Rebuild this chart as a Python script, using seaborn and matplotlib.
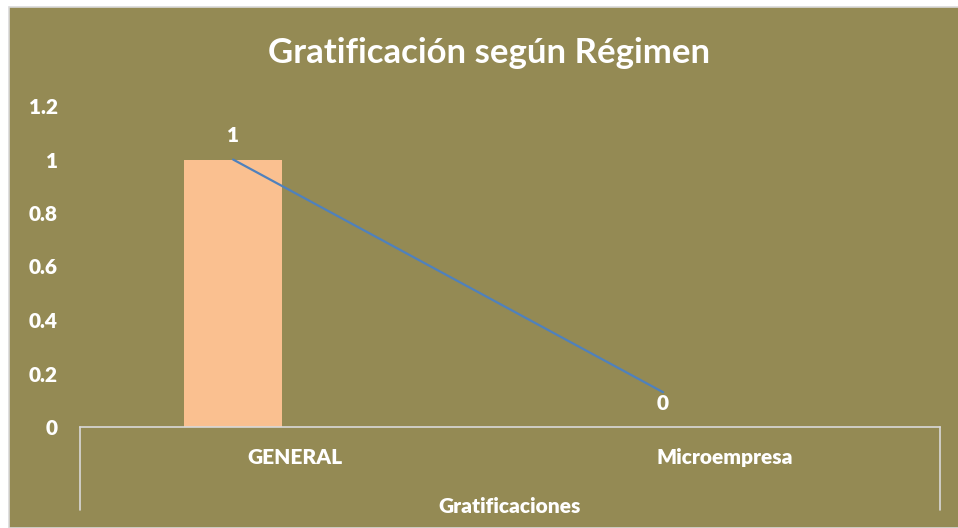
import pandas as pd
import seaborn as sns
import matplotlib.pyplot as plt
from matplotlib.patches import Rectangle

# Data
categories = ['GENERAL', 'Microempresa']
bar_values = [1, 0]
line_values = [1, 0.13]
label_values = [1, 0]
y_ticks = [0, 0.2, 0.4, 0.6, 0.8, 1, 1.2]
y_tick_labels = ['0', '0.2', '0.4', '0.6', '0.8', '1', '1.2']

olive = '#948A54'
peach = '#FAC090'
blue = '#4F81BD'
grid_gray = '#D9D9D9'

sns.set_style('white')
plt.rcParams['font.family'] = ['Lato', 'DejaVu Sans']
plt.rcParams['font.weight'] = 'heavy'

df = pd.DataFrame({'cat': categories, 'val': bar_values})

fig = plt.figure(figsize=(9.58, 5.28), dpi=100)
fig.patch.set_facecolor('white')
# chart area background
fig.patches.append(Rectangle((9 / 958, 0), 1, 1 - 7 / 528, transform=fig.transFigure,
                             facecolor=olive, edgecolor=grid_gray, linewidth=1.2, zorder=-10))

ax = fig.add_axes([80 / 958, 101 / 528, 860 / 958, 321 / 528])
ax.set_facecolor('none')

sns.barplot(data=df, x='cat', y='val', color=peach, width=0.226, saturation=1,
            linewidth=0, ax=ax, zorder=2)
sns.lineplot(x=[0, 1], y=line_values, color=blue, linewidth=1.6, ax=ax, zorder=3)

for i, v in enumerate(label_values):
    ax.annotate(str(v), (i, v), xytext=(0, 17), textcoords='offset points',
                ha='center', va='center', color='white', fontsize=15, fontweight='heavy')

ax.set_xlim(-0.356, 1.644)
ax.set_ylim(0, 1.2)
ax.set_yticks(y_ticks)
ax.set_yticklabels(y_tick_labels, fontweight='heavy')
ax.set_xticks([0.144, 1.144])
ax.set_xticklabels(categories, fontweight='heavy')
ax.tick_params(axis='both', length=0, colors='white', labelsize=15)
ax.tick_params(axis='y', pad=16)
ax.tick_params(axis='x', pad=15)

for side in ['top', 'right', 'left']:
    ax.spines[side].set_visible(False)
ax.spines['bottom'].set_color(grid_gray)
ax.spines['bottom'].set_linewidth(1.2)

# multi-level category axis borders
drop = -(510 - 427) / 321
for xa in [0, 1]:
    ax.plot([xa, xa], [0, drop], transform=ax.transAxes, color=grid_gray,
            linewidth=1.2, clip_on=False)

ax.set_xlabel('Gratificaciones', color='white', fontsize=15, fontweight='heavy', labelpad=22)
ax.set_ylabel('')

fig.text(489 / 958, 1 - 53 / 528, 'Gratificación según Régimen', ha='center', va='center',
         color='white', fontsize=25, fontweight='bold')

fig.savefig('out.png', dpi=100)
